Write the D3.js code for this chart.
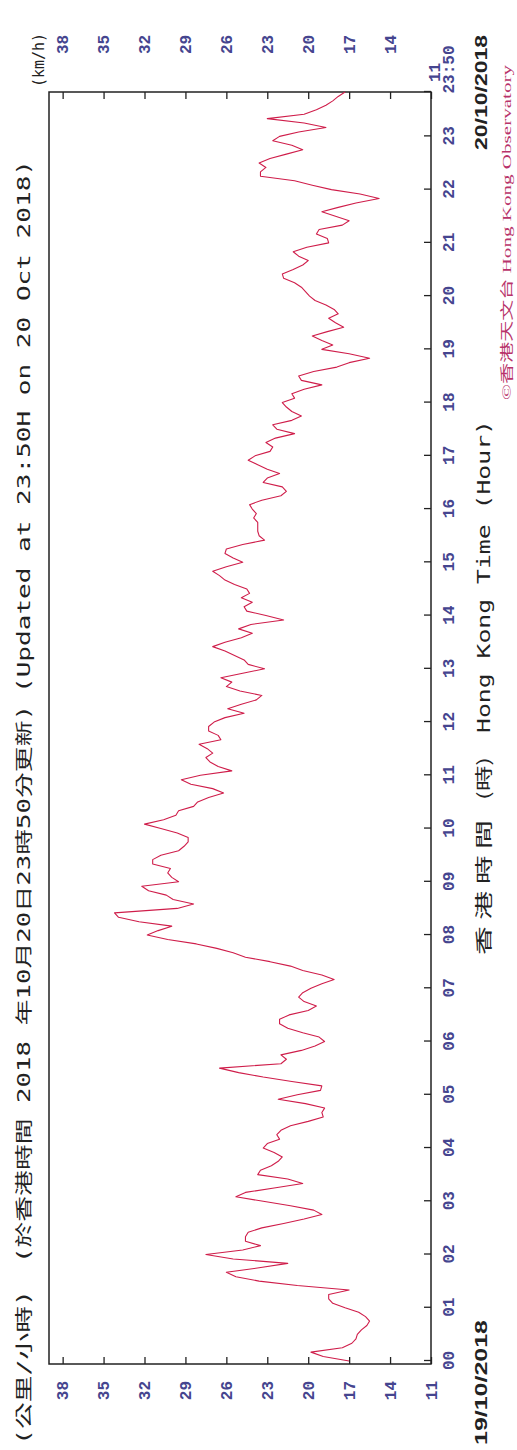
<!DOCTYPE html>
<html>
<head>
<meta charset="utf-8">
<script src="https://cdn.jsdelivr.net/npm/d3@7"></script>
<style>
  html, body { margin: 0; padding: 0; background: #fff; }
  svg { display: block; }
</style>
</head>
<body>
<svg id="chart" width="517" height="1450"></svg>
<script>
// Wind speed axis (km/h)
const valueTicks = [11, 14, 17, 20, 23, 26, 29, 32, 35, 38];

// Time axis: minutes after 00:00 and the label shown at each tick
const timeTickMinutes = [0, 60, 120, 180, 240, 300, 360, 420, 480, 540, 600, 660,
  720, 780, 840, 900, 960, 1020, 1080, 1140, 1200, 1260, 1320, 1380, 1430];
const timeTickLabels = ["00", "01", "02", "03", "04", "05", "06", "07", "08", "09", "10", "11",
  "12", "13", "14", "15", "16", "17", "18", "19", "20", "21", "22", "23", "23:50"];

// 10-minute mean wind speed, one value every 5 minutes from 00:00 to 23:50 (km/h)
const stepMinutes = 5;
const speedKmh = [
  17.0, 18.9, 19.8, 17.5, 16.8, 16.5, 16.4, 16.1, 15.7, 15.5, 15.8, 16.3, // 00
  17.3, 18.2, 18.5, 18.5, 17.0, 20.8, 23.6, 25.3, 26.0, 23.6, 21.5, 25.5, // 01
  27.5, 24.8, 23.5, 24.6, 24.6, 24.4, 23.4, 21.8, 20.3, 19.0, 19.6, 21.3, // 02
  23.3, 25.3, 24.6, 22.5, 20.4, 21.5, 23.7, 23.5, 22.7, 22.2, 21.9, 22.5, // 03
  23.3, 23.0, 22.1, 22.3, 22.0, 21.3, 20.0, 18.9, 19.0, 18.8, 20.2, 22.2, // 04
  20.8, 19.1, 19.0, 21.2, 23.3, 25.1, 26.5, 22.0, 21.6, 22.0, 20.5, 19.5, // 05
  18.8, 19.2, 20.4, 21.5, 22.1, 22.1, 21.4, 20.0, 19.4, 20.3, 20.7, 20.4, // 06
  19.8, 19.0, 18.1, 19.0, 20.4, 21.3, 22.8, 24.6, 25.5, 26.7, 28.2, 30.3, // 07
  31.8, 31.0, 30.0, 32.4, 33.9, 34.2, 29.6, 28.4, 29.9, 30.4, 31.7, 32.2, // 08
  29.5, 30.0, 30.3, 30.1, 31.4, 31.4, 30.8, 29.5, 29.1, 28.8, 28.8, 29.6, // 09
  30.8, 32.0, 30.6, 29.7, 29.5, 28.4, 28.1, 27.3, 26.2, 27.0, 28.6, 29.3, // 10
  27.9, 25.6, 26.6, 27.2, 27.5, 27.0, 27.4, 28.0, 26.4, 26.6, 27.3, 27.3, // 11
  26.9, 26.1, 24.7, 25.9, 24.9, 23.8, 23.4, 25.0, 26.0, 25.6, 26.4, 24.8, // 12
  23.2, 24.4, 24.7, 25.4, 26.1, 27.0, 26.1, 24.9, 24.1, 25.1, 24.2, 21.8, // 13
  23.1, 24.5, 24.7, 24.1, 24.9, 24.3, 24.5, 25.4, 26.1, 26.5, 27.0, 26.0, // 14
  24.8, 25.5, 26.1, 26.0, 24.8, 23.2, 23.6, 23.7, 23.7, 23.7, 24.0, 23.8, // 15
  24.1, 24.3, 23.4, 22.0, 21.6, 21.9, 23.3, 23.0, 22.1, 23.0, 23.7, 24.4, // 16
  23.9, 22.8, 22.6, 23.1, 22.4, 21.0, 22.3, 22.6, 21.2, 20.5, 21.2, 21.6, // 17
  21.9, 21.0, 21.2, 20.3, 19.0, 20.5, 20.7, 19.6, 17.9, 17.0, 15.5, 17.0, // 18
  19.0, 18.2, 19.0, 19.7, 18.6, 17.4, 18.0, 18.5, 17.8, 18.1, 18.7, 19.5, // 19
  19.9, 20.2, 20.5, 21.0, 21.8, 21.9, 21.1, 20.4, 20.0, 20.7, 21.1, 20.1, // 20
  18.5, 18.6, 19.4, 19.2, 17.5, 17.0, 18.0, 19.0, 17.8, 16.5, 14.8, 16.2, // 21
  18.3, 19.7, 21.0, 23.5, 23.5, 23.1, 23.6, 22.8, 21.6, 20.4, 21.2, 22.6, // 22
  22.1, 20.7, 18.7, 20.3, 23.0, 20.3, 19.4, 18.7, 18.2, 17.8, 17.3        // 23
];

// The chart is laid out landscape (1450 x 517) and turned a quarter turn
// anticlockwise to fit the portrait page.
const W = 1450, H = 517;
const frame = { left: 86, right: 1358, top: 49, bottom: 431 };

const svg = d3.select("#chart");
const g = svg.append("g").attr("transform", `translate(0,${W}) rotate(-90)`);

const x = d3.scaleLinear().domain([0, 1430]).range([89, frame.right]);
const y = d3.scaleLinear().domain([11, 39]).range([frame.bottom, frame.top]);

const tickColor = "#45458f";
const monoBold = "'Liberation Mono', 'DejaVu Sans Mono', monospace";

function styleAxis(sel, fontSize) {
  sel.select(".domain").remove();
  sel.selectAll(".tick line").attr("stroke", "#222").attr("stroke-width", 1.3);
  sel.selectAll(".tick text")
    .attr("fill", tickColor)
    .attr("font-family", monoBold)
    .attr("font-weight", "bold")
    .attr("font-size", fontSize);
}

// Left value axis (ticks point inward)
g.append("g")
  .attr("transform", `translate(${frame.left},0)`)
  .call(d3.axisLeft(y).tickValues(valueTicks).tickSize(-7).tickPadding(17))
  .call(s => styleAxis(s, 16));

// Right value axis; its lowest label sits lower, just past the corner
const rightAxis = g.append("g")
  .attr("transform", `translate(${frame.right},0)`)
  .call(d3.axisRight(y).tickValues(valueTicks).tickSize(-7).tickPadding(38))
  .call(s => styleAxis(s, 16));
rightAxis.selectAll(".tick text")
  .filter(d => d === valueTicks[0])
  .attr("x", 10).attr("dy", "0.5em");

// Time axis; the closing 23:50 label starts at its tick
const timeAxis = g.append("g")
  .attr("transform", `translate(0,${frame.bottom})`)
  .call(d3.axisBottom(x).tickValues(timeTickMinutes)
    .tickFormat((d, i) => timeTickLabels[i]).tickSize(-7).tickPadding(12))
  .call(s => styleAxis(s, 16));
timeAxis.selectAll(".tick text")
  .filter(d => d === timeTickMinutes[timeTickMinutes.length - 1])
  .attr("text-anchor", "start").attr("x", -2);

// Plot frame
g.append("rect")
  .attr("x", frame.left).attr("y", frame.top)
  .attr("width", frame.right - frame.left).attr("height", frame.bottom - frame.top)
  .attr("fill", "none").attr("stroke", "#222").attr("stroke-width", 1.5);

// Wind speed trace
const line = d3.line()
  .x((d, i) => x(i * stepMinutes))
  .y(d => y(d));

g.append("path")
  .datum(speedKmh)
  .attr("d", line)
  .attr("fill", "none")
  .attr("stroke", "#cf1d4a")
  .attr("stroke-width", 1.1)
  .attr("stroke-linejoin", "round");

// Text helper: a fragment stretched over a fixed span
function label(txt, x0, x1, yBase, opts) {
  const t = g.append("text")
    .attr("x", x0).attr("y", yBase)
    .attr("font-family", opts.family)
    .attr("font-size", opts.size)
    .attr("fill", opts.fill || "#222")
    .attr("font-weight", opts.weight || "normal")
    .text(txt);
  if (x1 != null) t.attr("textLength", x1 - x0).attr("lengthAdjust", "spacingAndGlyphs");
  return t;
}

const sansMono = "'DejaVu Sans Mono', 'Noto Sans CJK TC', monospace";

// Title line
label("(公里/小時)", 5, 160, 30, { family: sansMono, size: 17 });
label("(於香港時間 2018 年10月20日23時50分更新)", 187, 745, 30, { family: sansMono, size: 17 });
label("(Updated at 23:50H on 20 Oct 2018)", 757, 1290, 30, { family: sansMono, size: 17 });
label("(km/h)", 1363, 1417, 44, { family: sansMono, size: 16 });

// Dates under the time axis
label("19/10/2018", 5, 130, 487, { family: "'Liberation Sans', Arial, sans-serif", size: 16, weight: "bold" });
label("20/10/2018", 1300, 1415, 487, { family: "'Liberation Sans', Arial, sans-serif", size: 16, weight: "bold" });

// Time axis title
label("香 港 時 間", 495, 630, 490, { family: "'Noto Sans CJK TC', sans-serif", size: 17 });
label("(時)", 650, 693, 490, { family: "'Noto Sans CJK TC', sans-serif", size: 17 });
label("Hong Kong Time (Hour)", 717, 1030, 490, { family: sansMono, size: 17 });

// Credit
label("©香港天文台 Hong Kong Observatory", 1050, 1385, 511, { family: "'Liberation Serif', 'Noto Sans CJK TC', serif", size: 13, fill: "#b8336a" });
</script>
</body>
</html>
